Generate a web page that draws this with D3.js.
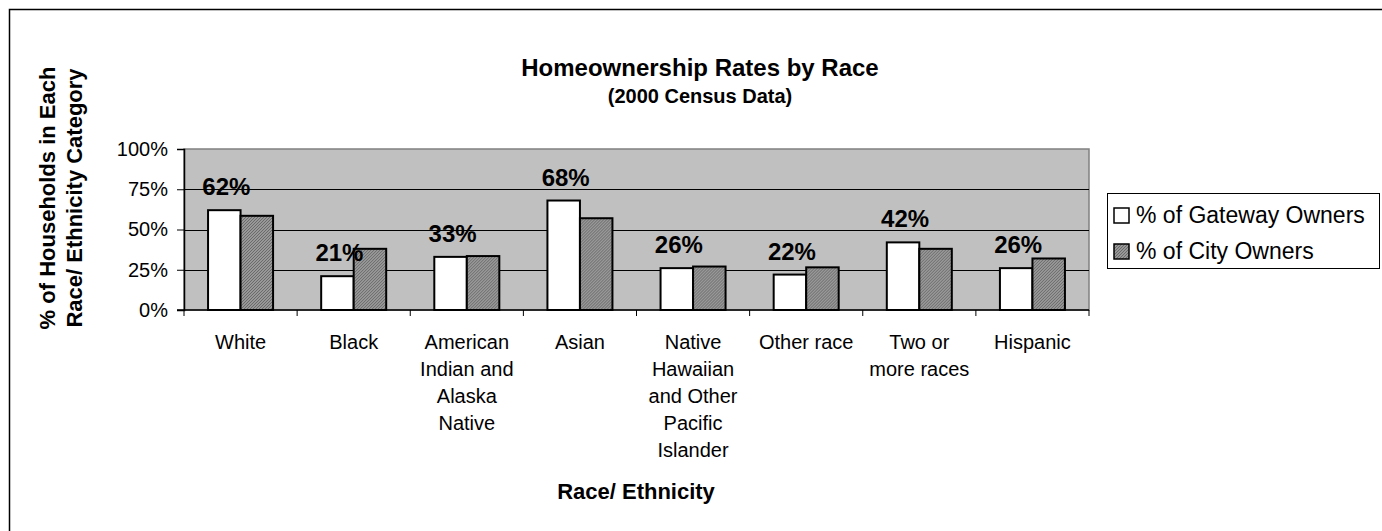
<!DOCTYPE html>
<html>
<head>
<meta charset="utf-8">
<script src="https://cdn.jsdelivr.net/npm/d3@7"></script>
<style>
  body { margin: 0; background: #fff; }
  svg { display: block; font-family: "Liberation Sans", Arial, sans-serif; }
</style>
</head>
<body>
<div id="chart"></div>
<script>
const categories = ["White", "Black", "American Indian and Alaska Native", "Asian",
  "Native Hawaiian and Other Pacific Islander", "Other race", "Two or more races", "Hispanic"];
const tickLines = [["White"], ["Black"], ["American", "Indian and", "Alaska", "Native"], ["Asian"],
  ["Native", "Hawaiian", "and Other", "Pacific", "Islander"], ["Other race"], ["Two or", "more races"], ["Hispanic"]];
const seriesNames = ["% of Gateway Owners", "% of City Owners"];
const gatewayValues = [62, 21, 33, 68, 26, 22, 42, 26];
const cityValues = [58.5, 38, 33.5, 57, 27, 26.5, 38, 32];
const yTicks = [0, 25, 50, 75, 100];

const W = 1382, H = 531;
const plot = { left: 184, right: 1089, top: 149, bottom: 310 };

const svg = d3.select("#chart").append("svg")
  .attr("width", W)
  .attr("height", H);

// fine grey hatch used by the city series
const pat = svg.append("defs").append("pattern")
  .attr("id", "hatch")
  .attr("width", 3)
  .attr("height", 3)
  .attr("patternUnits", "userSpaceOnUse");
pat.append("rect").attr("width", 3).attr("height", 3).attr("fill", "#989898");
pat.append("path").attr("d", "M0,3 L3,0 M-1,1 L1,-1 M2,4 L4,2")
  .attr("stroke", "#6a6a6a").attr("stroke-width", 1);

// outer chart border (runs off the right/bottom edge)
svg.append("rect")
  .attr("x", 9.5).attr("y", 9.5)
  .attr("width", 1420).attr("height", 600)
  .attr("fill", "#fff")
  .attr("stroke", "#000")
  .attr("stroke-width", 1.5);

const x0 = d3.scaleBand().domain(categories).range([plot.left, plot.right]).padding(0);
const x1 = d3.scaleBand().domain(seriesNames).range([0, x0.bandwidth()]).paddingInner(0).paddingOuter(0.74);
const y = d3.scaleLinear().domain([0, 100]).range([plot.bottom, plot.top]);

// plot background
svg.append("rect")
  .attr("x", plot.left).attr("y", plot.top)
  .attr("width", plot.right - plot.left).attr("height", plot.bottom - plot.top)
  .attr("fill", "#c0c0c0")
  .attr("stroke", "#808080")
  .attr("stroke-width", 1.5);

// gridlines
svg.append("g")
  .selectAll("line")
  .data(yTicks.filter(d => d > 0 && d < 100))
  .join("line")
  .attr("x1", plot.left).attr("x2", plot.right)
  .attr("y1", d => Math.round(y(d)) + 0.5).attr("y2", d => Math.round(y(d)) + 0.5)
  .attr("stroke", "#000")
  .attr("stroke-width", 1);

// bars
const data = categories.map((c, i) => ({ cat: c, vals: [gatewayValues[i], cityValues[i]] }));

const groups = svg.append("g")
  .selectAll("g")
  .data(data)
  .join("g")
  .attr("transform", d => `translate(${x0(d.cat)},0)`);

groups.selectAll("rect")
  .data(d => d.vals.map((v, j) => ({ s: seriesNames[j], v: v })))
  .join("rect")
  .attr("x", d => x1(d.s))
  .attr("y", d => y(d.v))
  .attr("width", x1.bandwidth())
  .attr("height", d => y(0) - y(d.v))
  .attr("fill", (d, j) => j === 0 ? "#fff" : "url(#hatch)")
  .attr("stroke", "#000")
  .attr("stroke-width", 2);

// data labels on gateway bars
groups.append("text")
  .attr("x", x1(seriesNames[0]) + x1.bandwidth() / 2 + 2)
  .attr("y", d => y(d.vals[0]) - 15)
  .attr("text-anchor", "middle")
  .style("font-size", "24px")
  .style("font-weight", "bold")
  .text(d => d.vals[0] + "%");

// axes
const yAxis = svg.append("g")
  .attr("transform", `translate(${plot.left},0)`)
  .call(d3.axisLeft(y).tickValues(yTicks).tickSize(7).tickPadding(9).tickFormat(d => d + "%"));
yAxis.select(".domain").attr("stroke", "#000").attr("stroke-width", 1.5);
yAxis.selectAll("text").style("font-size", "20px").attr("fill", "#000");

const xAxis = svg.append("g")
  .attr("transform", `translate(0,${plot.bottom})`);
xAxis.append("line")
  .attr("x1", plot.left - 7).attr("x2", plot.right)
  .attr("stroke", "#000").attr("stroke-width", 1.5);
xAxis.selectAll("line.tick")
  .data(categories.concat(["end"]))
  .join("line")
  .attr("class", "tick")
  .attr("x1", (d, i) => plot.left + i * x0.step())
  .attr("x2", (d, i) => plot.left + i * x0.step())
  .attr("y1", 0).attr("y2", 6)
  .attr("stroke", "#000");

const labels = xAxis.selectAll("text.cat")
  .data(categories)
  .join("text")
  .attr("class", "cat")
  .attr("text-anchor", "middle")
  .style("font-size", "20px");
labels.each(function(d, i) {
  const t = d3.select(this);
  tickLines[i].forEach((line, k) => {
    t.append("tspan")
      .attr("x", x0(d) + x0.bandwidth() / 2)
      .attr("y", 39 + k * 27)
      .text(line);
  });
});

// titles
svg.append("text")
  .attr("x", 700).attr("y", 76)
  .attr("text-anchor", "middle")
  .style("font-size", "24px")
  .style("font-weight", "bold")
  .text("Homeownership Rates by Race");

svg.append("text")
  .attr("x", 700).attr("y", 103)
  .attr("text-anchor", "middle")
  .style("font-size", "20px")
  .style("font-weight", "bold")
  .text("(2000 Census Data)");

svg.append("text")
  .attr("x", 636).attr("y", 499)
  .attr("text-anchor", "middle")
  .style("font-size", "22px")
  .style("font-weight", "bold")
  .text("Race/ Ethnicity");

const yTitle = svg.append("text")
  .attr("transform", "translate(0,198) rotate(-90)")
  .attr("text-anchor", "middle")
  .style("font-size", "22px")
  .style("font-weight", "bold");
yTitle.append("tspan").attr("x", 0).attr("y", 55).text("% of Households in Each");
yTitle.append("tspan").attr("x", 0).attr("y", 82).text("Race/ Ethnicity Category");

// legend
const legend = svg.append("g").attr("transform", "translate(1107,193)");
legend.append("rect")
  .attr("x", 0.5).attr("y", 0.5)
  .attr("width", 272).attr("height", 75)
  .attr("fill", "#fff")
  .attr("stroke", "#000");
seriesNames.forEach((s, i) => {
  legend.append("rect")
    .attr("x", 7).attr("y", 15 + i * 36)
    .attr("width", 15).attr("height", 15)
    .attr("fill", i === 0 ? "#fff" : "url(#hatch)")
    .attr("stroke", "#000")
    .attr("stroke-width", 1.5);
  legend.append("text")
    .attr("x", 29).attr("y", 30 + i * 36)
    .style("font-size", "23px")
    .text(s);
});
</script>
</body>
</html>
